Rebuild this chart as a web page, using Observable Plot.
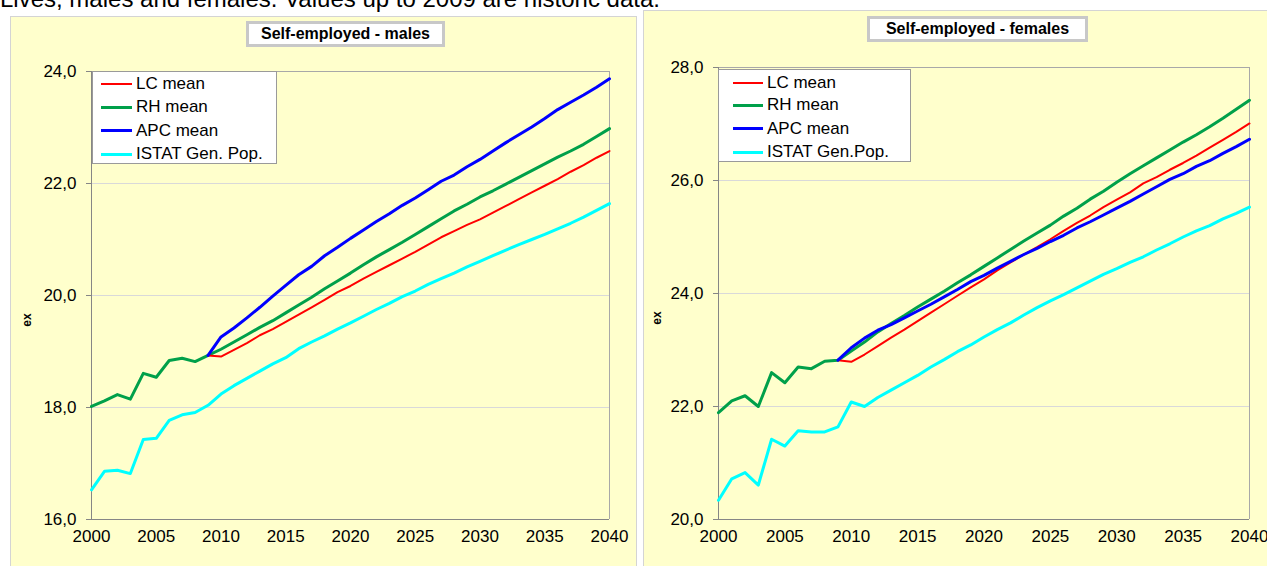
<!DOCTYPE html>
<html><head><meta charset="utf-8">
<script src="https://cdn.jsdelivr.net/npm/d3@7"></script>
<script src="https://cdn.jsdelivr.net/npm/@observablehq/plot@0.6"></script>
<style>
body{margin:0;width:1267px;height:566px;overflow:hidden;position:relative;background:#fff;font-family:"Liberation Sans",Arial,sans-serif;color:#000;}
.top{position:absolute;left:0;top:-13px;font-size:24px;line-height:24px;white-space:nowrap;}
.panel{position:absolute;background:#FFFFCC;box-shadow:inset 0 0 0 1px #d4d4d4;overflow:hidden;}
.panel svg{position:absolute;left:0;top:0;overflow:visible;}
.title{position:absolute;background:#fff;border:3px solid #c8c8c8;box-sizing:border-box;font-weight:bold;font-size:16px;text-align:center;display:flex;align-items:center;justify-content:center;}
.legend{position:absolute;background:#fff;border:1px solid #9a9a9a;box-sizing:border-box;}
.row{position:absolute;left:0;right:0;height:20px;line-height:20px;font-size:17px;white-space:nowrap;}
.row .sw{position:absolute;top:50%;}
.row .tx{position:absolute;top:0;}
.ylab{position:absolute;font-weight:bold;font-size:12px;transform:translate(-50%,-50%) rotate(-90deg);}
</style>
</head><body>
<div class="top">Lives, males and females. Values up to 2009 are historic data.</div>
<div id="left" class="panel" style="left:10px;top:16px;width:627px;height:560px;"></div>
<div id="right" class="panel" style="left:643px;top:10px;width:640px;height:566px;"></div>
<script>
const years = d3.range(2000, 2041);
const xTicks = [2000, 2005, 2010, 2015, 2020, 2025, 2030, 2035, 2040];
const seriesNames = ["LC mean", "RH mean", "APC mean", "ISTAT Gen. Pop."];
const seriesNamesF = ["LC mean", "RH mean", "APC mean", "ISTAT Gen.Pop."];
const seriesColors = ["#FF0000", "#00A04A", "#0000FF", "#00FFFF"];
const panelTitles = ["Self-employed - males", "Self-employed - females"];
const yTicksM = [16, 18, 20, 22, 24];
const yTicksF = [20, 22, 24, 26, 28];
const N = null;

// Males
const lcM = [N,N,N,N,N,N,N,N,N,18.93,18.91,19.03,19.15,19.29,19.40,19.53,19.66,19.79,19.92,20.06,20.17,20.30,20.42,20.54,20.66,20.78,20.91,21.04,21.15,21.26,21.36,21.48,21.60,21.72,21.84,21.96,22.08,22.21,22.33,22.46,22.58];
const rhM = [18.02,18.12,18.23,18.15,18.61,18.54,18.84,18.88,18.82,18.93,19.04,19.17,19.30,19.43,19.55,19.69,19.83,19.97,20.12,20.26,20.40,20.55,20.69,20.82,20.95,21.09,21.23,21.37,21.51,21.63,21.76,21.87,21.99,22.11,22.23,22.35,22.47,22.58,22.70,22.84,22.98];
const apcM = [N,N,N,N,N,N,N,N,N,18.93,19.26,19.42,19.60,19.79,19.99,20.18,20.37,20.52,20.71,20.86,21.02,21.17,21.32,21.46,21.61,21.74,21.89,22.04,22.15,22.30,22.43,22.58,22.73,22.87,23.01,23.16,23.32,23.45,23.58,23.72,23.87];
const istatM = [16.53,16.86,16.88,16.82,17.43,17.45,17.77,17.87,17.91,18.04,18.24,18.39,18.52,18.65,18.78,18.89,19.05,19.17,19.28,19.40,19.51,19.63,19.75,19.86,19.98,20.08,20.20,20.30,20.40,20.51,20.61,20.71,20.81,20.91,21.00,21.09,21.19,21.29,21.40,21.52,21.64];

// Females
const lcF = [N,N,N,N,N,N,N,N,N,22.82,22.79,22.92,23.07,23.22,23.36,23.51,23.66,23.81,23.96,24.11,24.25,24.41,24.55,24.69,24.82,24.96,25.11,25.25,25.38,25.53,25.66,25.79,25.95,26.06,26.19,26.31,26.44,26.58,26.72,26.86,27.01];
const rhF = [21.89,22.10,22.19,22.00,22.60,22.42,22.70,22.67,22.80,22.82,22.98,23.14,23.32,23.47,23.61,23.76,23.90,24.04,24.19,24.33,24.48,24.63,24.78,24.93,25.07,25.21,25.37,25.51,25.67,25.81,25.97,26.12,26.26,26.40,26.54,26.68,26.81,26.95,27.10,27.26,27.42];
const apcF = [N,N,N,N,N,N,N,N,N,22.82,23.04,23.21,23.35,23.45,23.57,23.69,23.81,23.94,24.07,24.21,24.32,24.45,24.57,24.69,24.80,24.92,25.03,25.16,25.27,25.39,25.51,25.63,25.76,25.89,26.02,26.12,26.25,26.35,26.48,26.60,26.73];
const istatF = [20.34,20.72,20.83,20.61,21.42,21.30,21.57,21.55,21.55,21.64,22.08,22.00,22.16,22.29,22.42,22.55,22.70,22.83,22.97,23.09,23.23,23.36,23.48,23.62,23.75,23.87,23.98,24.10,24.22,24.34,24.44,24.55,24.65,24.77,24.88,25.00,25.11,25.20,25.32,25.42,25.53];

const fmt = d => d.toFixed(1).replace(".", ",");

function makePanel(cfg) {
  const el = document.getElementById(cfg.id);
  const rows = (arr) => years.map((y, i) => ({year: y, v: arr[i]}));
  const [lc, rh, apc, ist] = cfg.series;
  const yMin = cfg.yTicks[0], yMax = cfg.yTicks[cfg.yTicks.length - 1];
  const chart = Plot.plot({
    width: cfg.width, height: cfg.height,
    marginLeft: cfg.ml, marginRight: cfg.mr, marginTop: cfg.mt, marginBottom: cfg.mb,
    style: {background: "transparent", fontFamily: "'Liberation Sans', Arial, sans-serif", fontSize: "17px", color: "#000"},
    x: {domain: [2000, 2040]},
    y: {domain: [yMin, yMax]},
    marks: [
      Plot.gridY(cfg.yTicks, {stroke: "#d9d9d9", strokeOpacity: 1}),
      Plot.ruleY([yMax], {stroke: "#a8a8a8"}),
      Plot.ruleX([2040], {stroke: "#a8a8a8"}),
      Plot.ruleX([2000], {stroke: "#868686"}),
      Plot.ruleY([yMin], {stroke: "#868686"}),
      Plot.axisX({ticks: xTicks, tickSize: 0, tickPadding: 10, tickFormat: d => String(d), color: "#000", label: null, fontSize: 17}),
      Plot.axisY({ticks: cfg.yTicks, tickSize: 5, tickPadding: 10, tickFormat: fmt, color: "#000", stroke: "#868686", label: null, fontSize: 17}),
      Plot.line(rows(ist), {x: "year", y: "v", stroke: seriesColors[3], strokeWidth: 3}),
      Plot.line(rows(rh), {x: "year", y: "v", stroke: seriesColors[1], strokeWidth: 3}),
      Plot.line(rows(lc), {x: "year", y: "v", stroke: seriesColors[0], strokeWidth: 2}),
      Plot.line(rows(apc), {x: "year", y: "v", stroke: seriesColors[2], strokeWidth: 3})
    ]
  });
  el.appendChild(chart);

  const t = document.createElement("div");
  t.className = "title";
  Object.assign(t.style, cfg.titleBox);
  t.textContent = cfg.title;
  el.appendChild(t);

  const lg = document.createElement("div");
  lg.className = "legend";
  Object.assign(lg.style, cfg.legendBox);
  cfg.names.forEach((name, i) => {
    const r = document.createElement("div");
    r.className = "row";
    r.style.top = (cfg.rowCenters[i] - 10) + "px";
    const sw = document.createElement("span");
    sw.className = "sw";
    sw.style.left = cfg.swX[0] + "px";
    sw.style.width = (cfg.swX[1] - cfg.swX[0]) + "px";
    const w = i === 0 ? 2 : 3;
    sw.style.height = w + "px";
    sw.style.marginTop = (-w / 2) + "px";
    sw.style.background = seriesColors[i];
    const tx = document.createElement("span");
    tx.className = "tx";
    tx.style.left = cfg.txX + "px";
    tx.textContent = name;
    r.appendChild(sw); r.appendChild(tx);
    lg.appendChild(r);
  });
  el.appendChild(lg);

  const yl = document.createElement("div");
  yl.className = "ylab";
  yl.style.left = cfg.ylab[0] + "px";
  yl.style.top = cfg.ylab[1] + "px";
  yl.textContent = "ex";
  el.appendChild(yl);
}

makePanel({
  id: "left", width: 627, height: 550, ml: 81, mr: 28, mt: 55, mb: 47,
  yTicks: yTicksM, series: [lcM, rhM, apcM, istatM], names: seriesNames,
  title: panelTitles[0],
  titleBox: {left: "236px", top: "5px", width: "199px", height: "26px"},
  legendBox: {left: "82px", top: "55px", width: "185px", height: "93px"},
  rowCenters: [12, 35.3, 58.5, 82], swX: [8, 39], txX: 43,
  ylab: [17, 304]
});
makePanel({
  id: "right", width: 624, height: 556, ml: 75, mr: 18, mt: 57, mb: 47,
  yTicks: yTicksF, series: [lcF, rhF, apcF, istatF], names: seriesNamesF,
  title: panelTitles[1],
  titleBox: {left: "224px", top: "6px", width: "221px", height: "26px"},
  legendBox: {left: "75px", top: "59px", width: "193px", height: "93px"},
  rowCenters: [12.7, 35.3, 58.7, 82], swX: [14, 44], txX: 48,
  ylab: [14, 308]
});
</script>
</body></html>
